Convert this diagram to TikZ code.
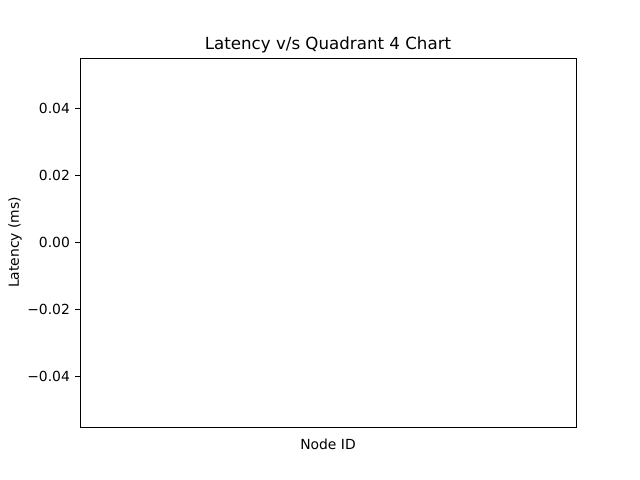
\documentclass[tikz,border=0pt]{standalone}
\usepackage{fontspec}
\setmainfont{DejaVu Sans}
\usepackage{tikz}
\usetikzlibrary{positioning}
\tikzset{
	ticklabel/.style={anchor=east, inner sep=0pt, font=\fontsize{10}{12}\selectfont},
	axislabel/.style={inner sep=0pt, font=\fontsize{10}{12}\selectfont},
	titlelabel/.style={inner sep=0pt, font=\fontsize{12}{14}\selectfont}
}
\begin{document}
\begin{tikzpicture} [x=0.72pt, y=-0.72pt]
						\useasboundingbox [fill=white] (0, 0) rectangle (640, 480);

						\draw [black, line width=0.7pt] (80, 58)--(576, 58)--(576, 427)--(80, 427)--cycle;

						% y ticks
						\foreach \v/\t in {108.3/0.04, 175.4/0.02, 242.5/0.00, 309.6/\textminus0.02, 376.7/\textminus0.04} {
							\draw [black, line width=0.7pt] (75.1, \v)--(80, \v);
							\node [ticklabel] at (70.2, \v) {\t};
						}

						\node [titlelabel] (title) at (328, 44.5) {Latency v/s Quadrant 4 Chart};

						\node [axislabel] (xlabel) at (328, 444.5) {Node ID};

						\node [axislabel, rotate=90] (ylabel) at (15, 242.5) {Latency (ms)};

					\end{tikzpicture}
\end{document}
